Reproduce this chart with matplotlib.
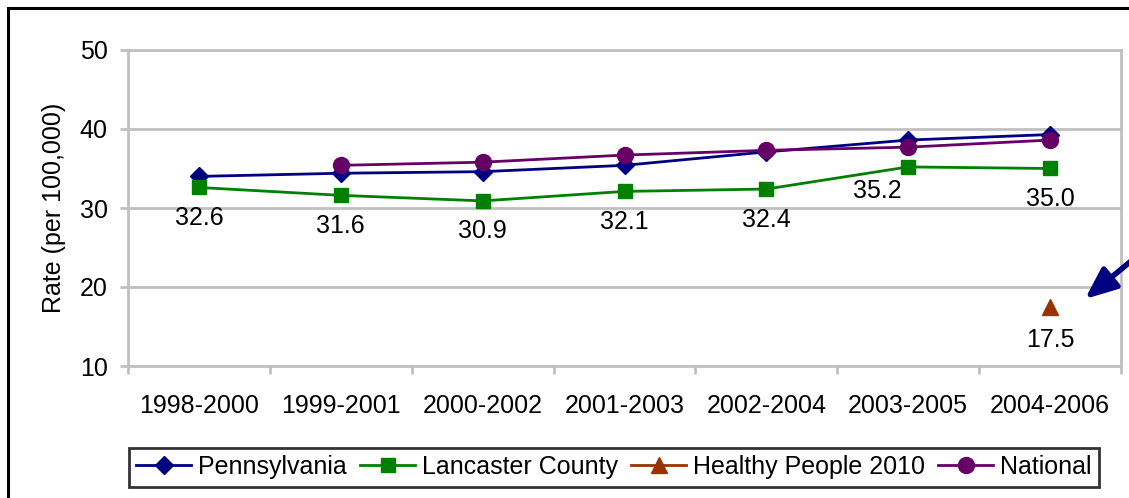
import matplotlib.pyplot as plt
from matplotlib.patches import Rectangle, FancyArrowPatch
import numpy as np

plt.rcParams['font.family'] = ['Liberation Sans', 'DejaVu Sans']

periods = ['1998-2000', '1999-2001', '2000-2002', '2001-2003',
           '2002-2004', '2003-2005', '2004-2006']
pennsylvania = [34.0, 34.4, 34.6, 35.4, 37.1, 38.6, 39.3]
lancaster = [32.6, 31.6, 30.9, 32.1, 32.4, 35.2, 35.0]
national = [None, 35.4, 35.8, 36.7, 37.3, 37.7, 38.6]
healthy_people = [None, None, None, None, None, None, 17.5]

x = np.arange(len(periods))
grid_col = '#c0c0c0'

fig = plt.figure(figsize=(11.29, 4.98), dpi=100)
ax = fig.add_axes([128 / 1129, 1 - 366 / 498, 993 / 1129, 316 / 498])

ax.plot(x, pennsylvania, color='#000080', lw=2, marker='D', ms=9.5,
        label='Pennsylvania', zorder=3)
ax.plot(x, lancaster, color='#008000', lw=2, marker='s', ms=10.5,
        label='Lancaster County', zorder=3)
hp = np.array([np.nan if v is None else v for v in healthy_people])
ax.plot(x, hp, color='#993300', lw=2, marker='^', ms=11,
        label='Healthy People 2010', zorder=3)
nat = np.array([np.nan if v is None else v for v in national])
ax.plot(x, nat, color='#660066', lw=2, marker='o', ms=11.5,
        label='National', zorder=4)

# data labels for Lancaster County and Healthy People 2010
for i, v in enumerate(lancaster):
    if i == 5:
        off = (-22, -17)
    else:
        off = (0, -22)
    ax.annotate(f'{v:.1f}', (x[i], v), xytext=off, textcoords='offset points',
                ha='center', va='center', fontsize=18)
ax.annotate(f'{hp[6]:.1f}', (x[6], hp[6]), xytext=(0, -24),
            textcoords='offset points', ha='center', va='center', fontsize=18)

ax.set_xlim(-0.5, len(periods) - 0.5)
ax.set_ylim(10, 50)
ax.set_yticks([10, 20, 30, 40, 50])
ax.set_xticks(x)
ax.set_xticklabels(periods)
ax.set_xticks(np.arange(-0.5, len(periods)), minor=True)
ax.tick_params(axis='x', which='major', length=0, pad=20, labelsize=18)
ax.tick_params(axis='x', which='minor', length=5.5, width=2, color=grid_col)
ax.tick_params(axis='y', length=5.5, width=2, color=grid_col, pad=9, labelsize=18)
ax.grid(axis='y', color=grid_col, lw=2)
ax.set_axisbelow(True)
for s in ax.spines.values():
    s.set_color(grid_col)
    s.set_linewidth(2)
ax.set_ylabel('Rate (per 100,000)', fontsize=18, labelpad=10)

leg = fig.legend(loc='center', bbox_to_anchor=(614 / 1129, 1 - 467 / 498),
                 ncol=4, fontsize=18, frameon=True, fancybox=False,
                 handlelength=2.2, handletextpad=0.28, columnspacing=0.52,
                 borderpad=0.3, borderaxespad=0)
leg.get_frame().set_edgecolor('black')
leg.get_frame().set_linewidth(2)

# arrow pointing at the Healthy People target
arrow = FancyArrowPatch((1170, 498 - 229), (1085, 498 - 299),
                        transform=None, arrowstyle='-|>,head_length=19,head_width=8',
                        mutation_scale=1, color='#000080', lw=4,
                        shrinkA=0, shrinkB=0)
fig.patches.append(arrow)

# outer frame
fig.patches.append(Rectangle((8, -20), 1200, 498 - 8 + 20, transform=None,
                             fill=False, edgecolor='black', lw=2.2))

fig.savefig('out.png', dpi=100)
